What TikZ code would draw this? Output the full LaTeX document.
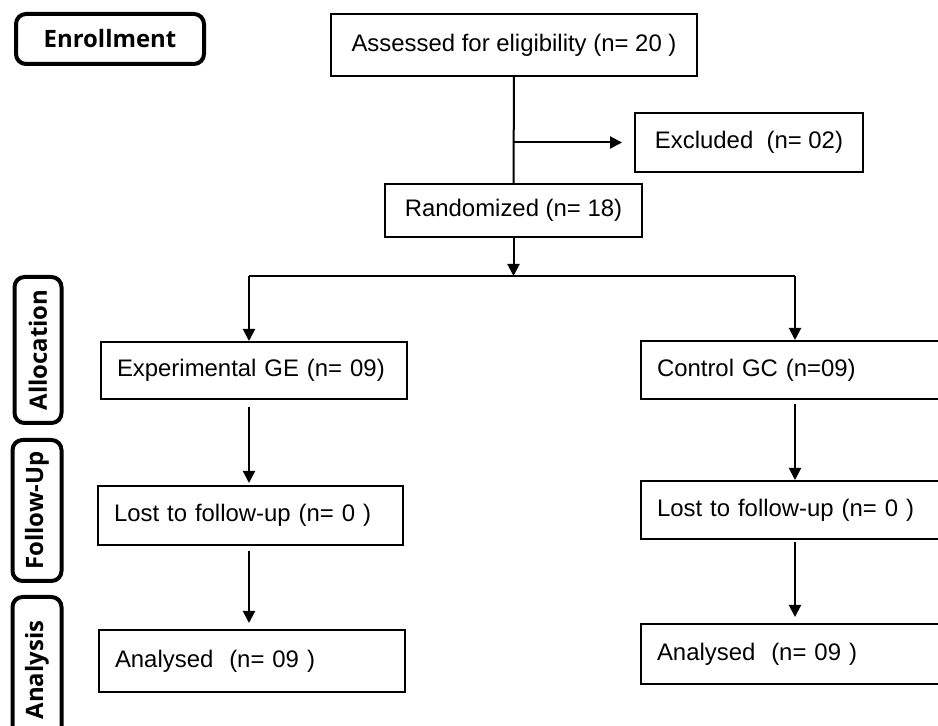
\documentclass[tikz,border=0pt]{standalone}
\usepackage{fontspec}
\setmainfont{Liberation Sans}
\newfontfamily\stagefont{Open Sans}
\usetikzlibrary{arrows.meta,shapes}
\tikzset{
  box/.style={draw,line width=2bp,inner xsep=16bp,font=\fontsize{24}{28}\selectfont},
  leftbox/.style={box,align=left,text width=#1},
  stage/.style={draw,line width=4bp,rounded corners=10bp,inner sep=0pt,font=\stagefont\bfseries\fontsize{24}{28}\selectfont},
  arr/.style={-{Triangle[length=12bp,width=12bp]},line width=2bp}
}

\begin{document}
\begin{tikzpicture}[scale=1]
\useasboundingbox (0bp,0bp) rectangle (938bp,726bp);
\node (enrol) at (110bp,687bp) [stage,minimum width=188bp,minimum height=50bp] {Enrollment};
\node (alloc) at (38bp,376bp) [stage,rotate=90,minimum width=146bp,minimum height=47bp] {Allocation};
\node (follow) at (37bp,215.5bp) [stage,rotate=90,minimum width=141bp,minimum height=49bp] {Follow-Up};
\node (anal) at (37bp,56bp) [stage,rotate=90,minimum width=146bp,minimum height=49bp] {Analysis};
\node (assess) at (514bp,681bp) [box,minimum width=366bp,minimum height=62bp] {Assessed for eligibility (n= 20 )};
\node (excl) at (749bp,583.5bp) [box,minimum width=228bp,minimum height=59bp] {Excluded~ (n= 02)};
\node (rand) at (513.5bp,515.5bp) [box,minimum width=257bp,minimum height=53bp] {Randomized (n= 18)};
\node (exp) at (254bp,355.5bp) [leftbox=274bp,minimum height=57bp] {Experimental GE (n= 09)};
\node (lostL) at (250.5bp,210.5bp) [leftbox=273bp,minimum height=59bp] {Lost to follow-up (n= 0 )};
\node (anaL) at (252bp,65bp) [leftbox=274bp,minimum height=62bp] {Analysed~ (n= 09 )};
\node (ctrl) at (795bp,356bp) [leftbox=276bp,minimum height=58bp] {Control GC (n=09)};
\node (lostR) at (795bp,216bp) [leftbox=276bp,minimum height=58bp] {Lost to follow-up (n= 0 )};
\node (anaR) at (795bp,72bp) [leftbox=276bp,minimum height=60bp] {Analysed~ (n= 09 )};
\coordinate (split) at (516bp,450bp);
\coordinate (colL) at (249bp,450bp);
\coordinate (colR) at (795bp,450bp);
\draw [line width=2bp] (assess) -- (rand);
\draw [arr,shorten >=12bp] (assess.south |- excl) -- (excl);
\draw [arr] (rand) -- (rand.south |- split);
\draw [line width=2bp] (colL) -- (colR);
\draw [arr] (colL) -- (colL |- exp.north);
\draw [arr] (colR) -- (colR |- ctrl.north);
\draw [arr,shorten <=7bp,shorten >=2bp] (colL |- exp.south) -- (colL |- lostL.north);
\draw [arr,shorten <=5bp,shorten >=6bp] (colL |- lostL.south) -- (colL |- anaL.north);
\draw [arr,shorten <=4bp] (colR |- ctrl.south) -- (colR |- lostR.north);
\draw [arr,shorten <=2bp,shorten >=6bp] (colR |- lostR.south) -- (colR |- anaR.north);
\end{tikzpicture}
\end{document}
